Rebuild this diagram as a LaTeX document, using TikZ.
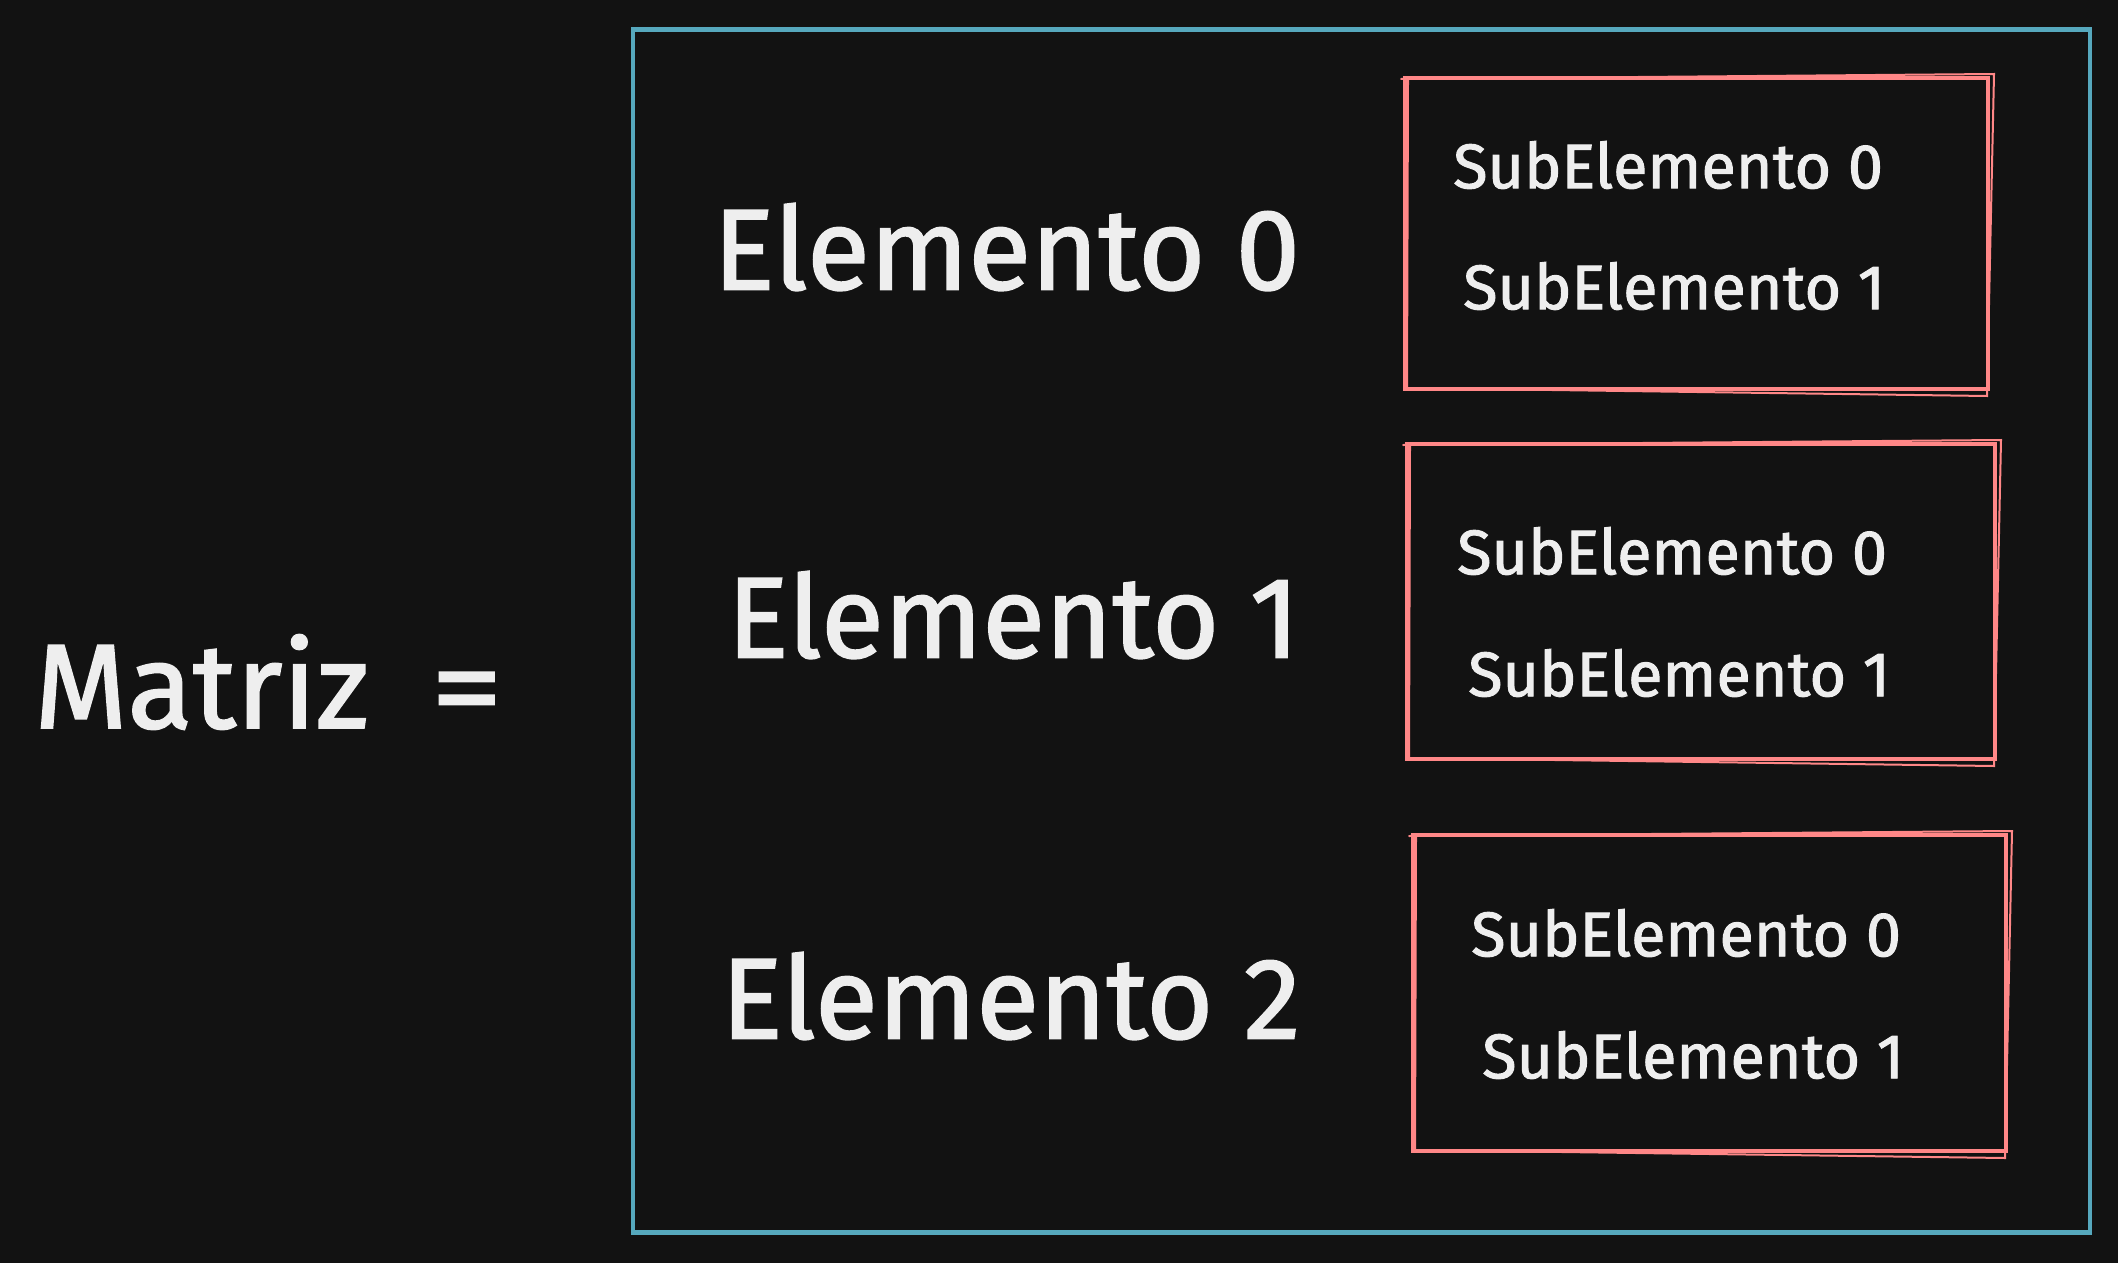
\documentclass[tikz,border=0pt]{standalone}
\usepackage{fontspec}
\setmainfont[FakeBold=1.5]{Fira Sans}
\usetikzlibrary{calc}
\definecolor{bg}{HTML}{121212}
\definecolor{bluec}{HTML}{56A8BD}
\definecolor{redc}{HTML}{FF8787}
\definecolor{txt}{HTML}{EEEEEE}
\tikzset{
  outerbox/.style={draw=bluec, line width=4.5pt, inner sep=0pt},
  subbox/.style={draw=redc, line width=4pt, inner sep=0pt},
  sketch/.style={draw=redc, line width=2pt, line cap=round},
  bigtxt/.style={text=txt, inner sep=0pt, anchor=west, font=\fontsize{115}{130}\selectfont},
  lbltxt/.style={text=txt, inner sep=0pt, anchor=west, font=\fontsize{120}{130}\selectfont},
  subtxt/.style={text=txt, inner sep=0pt, anchor=west, font=\fontsize{63}{72}\selectfont}
}
\begin{document}
\begin{tikzpicture}[x=1pt,y=-1pt]
\fill[bg] (0,0) rectangle (2118,1263);
\useasboundingbox (0,0) rectangle (2118,1263);

% outer box
\node[outerbox, minimum width=1457pt, minimum height=1203pt] (outer) at (1361.5,631) {};

% sub boxes
\node[subbox, minimum width=583pt, minimum height=311pt] (b1) at (1696.5,233.5) {};
\node[subbox, minimum width=588pt, minimum height=315pt] (b2) at (1701,601.5) {};
\node[subbox, minimum width=593pt, minimum height=316pt] (b3) at (1709.5,993) {};

% sketchy second strokes
\foreach \b in {b1,b2,b3}{
  \draw[sketch] ($(\b.north west)+(-2,3)$) -- ($(\b.north east)+(4,-2)$) -- ($(\b.south east)+(-3,5)$) -- ($(\b.south west)+(4,-3)$) -- ($(\b.north west)+(5,4)$);
}

% labels
\node[lbltxt] (matriz) at (34,682) {Matriz\hspace{62pt}\scalebox{1.2}[1]{=}};
\node[bigtxt] (e0) at (713,247) {Elemento 0};
\node[bigtxt] (e1) at (727,615) {Elemento 1};
\node[bigtxt] (e2) at (721,996) {Elemento 2};

\node[subtxt] (s10) at (1453,165) {SubElemento 0};
\node[subtxt] (s11) at (1463,286) {SubElemento 1};
\node[subtxt] (s20) at (1457,551) {SubElemento 0};
\node[subtxt] (s21) at (1468,673) {SubElemento 1};
\node[subtxt] (s30) at (1471,933) {SubElemento 0};
\node[subtxt] (s31) at (1482,1055) {SubElemento 1};
\end{tikzpicture}
\end{document}
